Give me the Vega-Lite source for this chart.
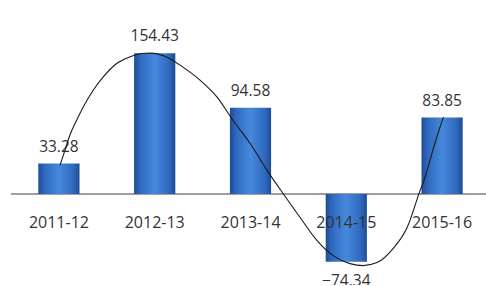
{
  "$schema": "https://vega.github.io/schema/vega-lite/v6.json",
  "width": 479,
  "height": 255,
  "autosize": {"type": "none"},
  "padding": {"left": 11, "top": 30, "right": 0, "bottom": 0},
  "background": "white",
  "config": {"view": {"stroke": null}},
  "datasets": {
    "bars": [
      {"year": "2011-12", "value": 33.28},
      {"year": "2012-13", "value": 154.43},
      {"year": "2013-14", "value": 94.58},
      {"year": "2014-15", "value": -74.34},
      {"year": "2015-16", "value": 83.85}
    ],
    "curve": [
      {"u": 0.511, "v": 31.4},
      {"u": 0.563, "v": 47.9},
      {"u": 0.614, "v": 64.4},
      {"u": 0.685, "v": 80.9},
      {"u": 0.754, "v": 95.5},
      {"u": 0.858, "v": 113.9},
      {"u": 0.963, "v": 128.5},
      {"u": 1.103, "v": 143.2},
      {"u": 1.242, "v": 150.5},
      {"u": 1.364, "v": 154.2},
      {"u": 1.451, "v": 154.6},
      {"u": 1.629, "v": 150.2},
      {"u": 1.795, "v": 139.2},
      {"u": 1.973, "v": 124.9},
      {"u": 2.151, "v": 106.2},
      {"u": 2.317, "v": 80.9},
      {"u": 2.495, "v": 55.6},
      {"u": 2.673, "v": 25.9},
      {"u": 2.84, "v": 0.5},
      {"u": 3.018, "v": -25.9},
      {"u": 3.195, "v": -51.2},
      {"u": 3.363, "v": -67.7},
      {"u": 3.539, "v": -76.5},
      {"u": 3.675, "v": -78.7},
      {"u": 3.821, "v": -75.4},
      {"u": 3.988, "v": -60.0},
      {"u": 4.135, "v": -36.9},
      {"u": 4.271, "v": 3.9},
      {"u": 4.323, "v": 18.5},
      {"u": 4.393, "v": 44.2},
      {"u": 4.445, "v": 62.5},
      {"u": 4.514, "v": 84.5}
    ]
  },
  "resolve": {"scale": {"x": "independent"}},
  "layer": [
    {
      "data": {"name": "bars"},
      "mark": {"type": "rule", "color": "#9a9a9a", "strokeWidth": 1},
      "encoding": {
        "y": {"datum": 0, "type": "quantitative", "scale": {"domain": [-100, 180], "nice": false, "zero": false}, "axis": null}
      }
    },
    {
      "data": {"name": "bars"},
      "mark": {
        "type": "bar",
        "color": {
          "gradient": "linear", "x1": 0, "x2": 1, "y1": 0, "y2": 0,
          "stops": [
            {"offset": 0, "color": "#1d4c96"},
            {"offset": 0.15, "color": "#2f69be"},
            {"offset": 0.5, "color": "#4689dc"},
            {"offset": 0.85, "color": "#2f69be"},
            {"offset": 1, "color": "#1d4c96"}
          ]
        }
      },
      "encoding": {
        "x": {"field": "year", "type": "nominal", "sort": null, "scale": {"domain": ["2011-12", "2012-13", "2013-14", "2014-15", "2015-16"], "paddingInner": 0.57, "paddingOuter": 0.285}, "axis": null},
        "y": {"field": "value", "type": "quantitative", "scale": {"domain": [-100, 180], "nice": false, "zero": false}, "axis": null}
      }
    },
    {
      "data": {"name": "bars"},
      "transform": [{"filter": "datum.value >= 0"}],
      "mark": {"type": "text", "font": "Open Sans", "fontSize": 15.5, "color": "#333333", "baseline": "middle", "dy": -17},
      "encoding": {
        "x": {"field": "year", "type": "nominal", "sort": null, "scale": {"domain": ["2011-12", "2012-13", "2013-14", "2014-15", "2015-16"], "paddingInner": 0.57, "paddingOuter": 0.285}, "axis": null},
        "y": {"field": "value", "type": "quantitative", "scale": {"domain": [-100, 180], "nice": false, "zero": false}, "axis": null},
        "text": {"field": "value", "type": "quantitative", "format": ".2f"}
      }
    },
    {
      "data": {"name": "bars"},
      "transform": [{"filter": "datum.value < 0"}],
      "mark": {"type": "text", "font": "Open Sans", "fontSize": 15.5, "color": "#333333", "baseline": "middle", "dy": 19},
      "encoding": {
        "x": {"field": "year", "type": "nominal", "sort": null, "scale": {"domain": ["2011-12", "2012-13", "2013-14", "2014-15", "2015-16"], "paddingInner": 0.57, "paddingOuter": 0.285}, "axis": null},
        "y": {"field": "value", "type": "quantitative", "scale": {"domain": [-100, 180], "nice": false, "zero": false}, "axis": null},
        "text": {"field": "value", "type": "quantitative", "format": ".2f"}
      }
    },
    {
      "data": {"name": "bars"},
      "mark": {"type": "text", "font": "Open Sans", "fontSize": 16, "color": "#333333", "baseline": "middle", "dy": 29},
      "encoding": {
        "x": {"field": "year", "type": "nominal", "sort": null, "scale": {"domain": ["2011-12", "2012-13", "2013-14", "2014-15", "2015-16"], "paddingInner": 0.57, "paddingOuter": 0.285}, "axis": null},
        "y": {"datum": 0, "type": "quantitative", "scale": {"domain": [-100, 180], "nice": false, "zero": false}, "axis": null},
        "text": {"field": "year", "type": "nominal"}
      }
    },
    {
      "data": {"name": "curve"},
      "mark": {"type": "line", "color": "#1a1a1a", "strokeWidth": 1.1, "interpolate": "monotone"},
      "encoding": {
        "x": {"field": "u", "type": "quantitative", "scale": {"domain": [0, 5], "nice": false, "zero": false}, "axis": null},
        "y": {"field": "v", "type": "quantitative", "scale": {"domain": [-100, 180], "nice": false, "zero": false}, "axis": null}
      }
    }
  ]
}
